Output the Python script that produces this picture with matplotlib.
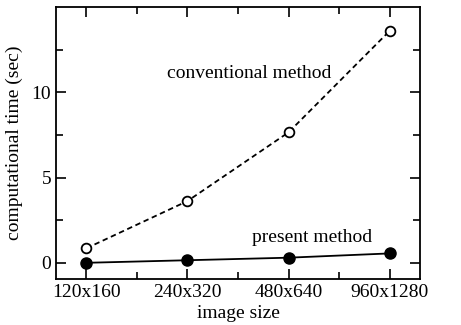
import matplotlib
matplotlib.use("Agg")
import matplotlib.pyplot as plt
from matplotlib.ticker import MultipleLocator

categories = ["120x160", "240x320", "480x640", "960x1280"]
conventional = [0.85, 3.62, 7.65, 13.6]
present = [0.0, 0.15, 0.3, 0.55]

plt.rcParams['font.family'] = ['Liberation Serif', 'DejaVu Serif']
fig = plt.figure(figsize=(4.61, 3.25), dpi=100)
ax = fig.add_axes([56/461, 1-279/325, (420-56)/461, (279-7)/325])

x = list(range(len(categories)))
ax.plot(x, conventional, color='black', ls=(0, (3, 2)), lw=1.3, marker='o', ms=7,
        mfc='white', mec='black', mew=1.3)
ax.plot(x, present, color='black', ls='-', lw=1.3, marker='o', ms=8,
        mfc='black', mec='black')

ax.set_xlim(-0.3, 3.3)
ax.set_ylim(-0.95, 15)
ax.set_xticks(x)
ax.set_xticklabels(categories)
ax.xaxis.set_minor_locator(MultipleLocator(0.5))
ax.set_yticks([0, 5, 10])
ax.set_yticks([2.5, 7.5, 12.5], minor=True)
ax.tick_params(which='both', direction='in', top=True, right=True, labelsize=14, width=1.2)
ax.tick_params(which='major', length=7)
ax.tick_params(which='minor', length=5)
for s in ax.spines.values():
    s.set_linewidth(1.3)
ax.set_xlabel('image size', fontsize=14, labelpad=3)
ax.set_ylabel('computational time (sec)', fontsize=14, labelpad=6)
ax.text(1.61, 11.1, 'conventional method', fontsize=14, ha='center', va='center')
ax.text(2.23, 1.46, 'present method', fontsize=14, ha='center', va='center')
fig.savefig('out.png', dpi=100)
